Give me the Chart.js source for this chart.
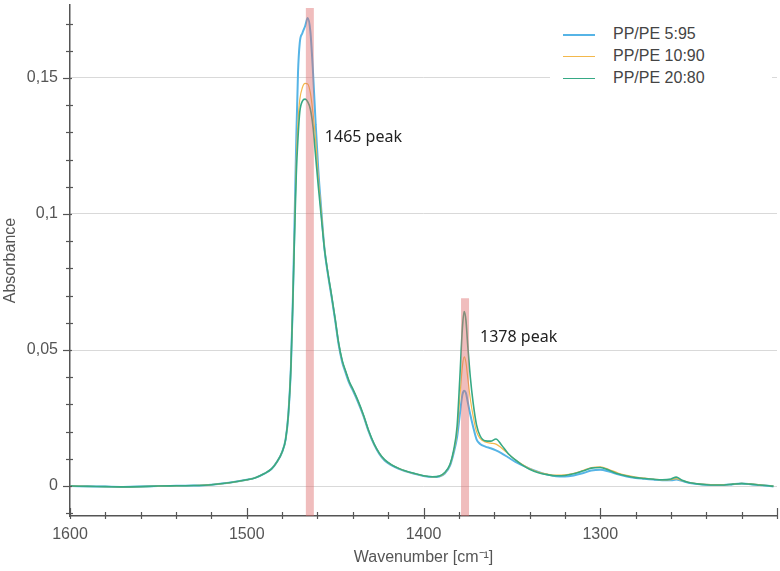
<!DOCTYPE html>
<html>
<head>
<meta charset="utf-8">
<script src="https://cdn.jsdelivr.net/npm/chart.js@4/dist/chart.umd.min.js"></script>
<style>
  html, body { margin: 0; padding: 0; background: #fff; }
  #wrap { position: relative; width: 780px; height: 571px; }
  #legend {
    position: absolute; left: 550px; top: 22px; width: 222px; height: 78px;
    background: #fff; font: 16px "Liberation Sans", Arial, sans-serif; color: #444;
  }
  #legend .row { position: absolute; left: 63px; height: 22px; line-height: 22px; white-space: nowrap; }
  #legend .sw { position: absolute; left: -50px; top: 11px; width: 32px; }
</style>
</head>
<body>
<div id="wrap">
  <canvas id="chart" width="780" height="571"></canvas>
  <div id="legend"></div>
</div>
<script>
/* FTIR overlay, PP/PE blends, 1600–1200 cm-1 */

// ── Data ──────────────────────────────────────────────────────────────────
const wavenumbers = [
  1600, 1590, 1580, 1570, 1560, 1550, 1540, 1530, 1520, 1510,
  1500, 1495, 1490, 1486, 1483, 1480, 1478, 1476.5, 1475, 1474,
  1473, 1472, 1471, 1470, 1468.5, 1467, 1465.5, 1464, 1462.5, 1461,
  1459.5, 1458, 1456, 1454, 1452, 1450, 1448, 1446, 1444, 1442,
  1440, 1437, 1434, 1431, 1428, 1425, 1422, 1418, 1414, 1410,
  1405, 1400, 1395, 1391, 1388, 1385, 1383, 1381, 1379.5, 1378,
  1377, 1376, 1375, 1373.5, 1372, 1370, 1368, 1365, 1362, 1359,
  1356, 1352, 1348, 1344, 1340, 1335, 1330, 1325, 1320, 1315,
  1310, 1305, 1300, 1295, 1290, 1285, 1280, 1275, 1270, 1265,
  1260, 1257, 1254, 1250, 1245, 1240, 1235, 1230, 1225, 1220,
  1215, 1210, 1205, 1202
];

const pp5 = [
  0.0000, -0.0001, -0.0002, -0.0003, -0.0002, 0.0000, 0.0001, 0.0002, 0.0005, 0.0012,
  0.0023, 0.0031, 0.0046, 0.0063, 0.0088, 0.0125, 0.0172, 0.026, 0.044, 0.066,
  0.096, 0.127, 0.152, 0.163, 0.1665, 0.169, 0.172, 0.167, 0.152, 0.133,
  0.116, 0.103, 0.087, 0.0775, 0.0695, 0.061, 0.052, 0.0455, 0.0415, 0.0378,
  0.0352, 0.0308, 0.0258, 0.0200, 0.0153, 0.0118, 0.0094, 0.0076, 0.0063, 0.0054,
  0.0045, 0.0037, 0.0033, 0.0035, 0.0046, 0.0075, 0.012, 0.018, 0.026, 0.0335,
  0.035, 0.0342, 0.031, 0.0262, 0.022, 0.0172, 0.0155, 0.0145, 0.0139, 0.0131,
  0.0121, 0.0105, 0.0089, 0.0076, 0.0064, 0.0052, 0.0042, 0.0036, 0.0035, 0.0039,
  0.0047, 0.0057, 0.0060, 0.0053, 0.0043, 0.0035, 0.0030, 0.0027, 0.0024, 0.0021,
  0.0021, 0.0024, 0.0019, 0.0012, 0.0008, 0.0005, 0.0004, 0.0004, 0.0007, 0.0009,
  0.0007, 0.0004, 0.0001, -0.0001
];

const pp10 = [
  0.0000, -0.0001, -0.0002, -0.0003, -0.0002, 0.0000, 0.0001, 0.0002, 0.0005, 0.0012,
  0.0023, 0.0031, 0.0046, 0.0063, 0.0088, 0.0125, 0.0172, 0.026, 0.044, 0.066,
  0.093, 0.119, 0.134, 0.142, 0.1465, 0.148, 0.1478, 0.1445, 0.137, 0.127,
  0.113, 0.102, 0.0875, 0.078, 0.070, 0.0615, 0.0525, 0.046, 0.042, 0.0382,
  0.0356, 0.0312, 0.026, 0.0202, 0.0155, 0.0121, 0.0096, 0.0078, 0.0065, 0.0055,
  0.0046, 0.0038, 0.0034, 0.0036, 0.0048, 0.0078, 0.0125, 0.020, 0.032, 0.044,
  0.0475, 0.0455, 0.040, 0.032, 0.026, 0.0200, 0.0175, 0.0162, 0.0158, 0.0154,
  0.0141, 0.0118, 0.0097, 0.0079, 0.0064, 0.0051, 0.0044, 0.0040, 0.0041, 0.0047,
  0.0057, 0.0068, 0.0071, 0.0061, 0.0048, 0.0039, 0.0033, 0.0029, 0.0026, 0.0023,
  0.0024, 0.0027, 0.0021, 0.0014, 0.0009, 0.0006, 0.0005, 0.0005, 0.0007, 0.0010,
  0.0008, 0.0005, 0.0002, 0.0000
];

const pp20 = [
  0.0000, -0.0001, -0.0002, -0.0003, -0.0002, 0.0000, 0.0001, 0.0002, 0.0005, 0.0012,
  0.0023, 0.0031, 0.0046, 0.0063, 0.0088, 0.0125, 0.0172, 0.026, 0.044, 0.066,
  0.091, 0.114, 0.128, 0.1375, 0.1415, 0.1422, 0.1412, 0.1385, 0.132, 0.121,
  0.110, 0.100, 0.087, 0.078, 0.070, 0.0615, 0.0525, 0.0462, 0.0422, 0.0384,
  0.0357, 0.0313, 0.0262, 0.0203, 0.0156, 0.0121, 0.0097, 0.0078, 0.0065, 0.0055,
  0.0046, 0.0038, 0.0034, 0.0037, 0.0050, 0.0080, 0.013, 0.022, 0.039, 0.058,
  0.0641, 0.061, 0.052, 0.040, 0.031, 0.0225, 0.0185, 0.0166, 0.0165, 0.0173,
  0.0152, 0.0119, 0.0096, 0.0077, 0.0062, 0.0049, 0.0042, 0.0038, 0.0039, 0.0045,
  0.0055, 0.0066, 0.0068, 0.0058, 0.0045, 0.0037, 0.0031, 0.0028, 0.0025, 0.0023,
  0.0026, 0.0033, 0.0022, 0.0013, 0.0008, 0.0005, 0.0004, 0.0004, 0.0007, 0.0009,
  0.0007, 0.0004, 0.0001, -0.0001
];

const seriesLabels = ['PP/PE 5:95', 'PP/PE 10:90', 'PP/PE 20:80'];

// highlighted bands (centre, top of band) and their captions
const bandCenters = [1464.3, 1376.5];
const bandTops    = [0.1757, 0.069];
const bandLabels  = ['1465 peak', '1378 peak'];

// ── Axis range ────────────────────────────────────────────────────────────
const X_MIN = 1200, X_MAX = 1600;
const Y_MIN = -0.011, Y_MAX = 0.1768;

// ── Styles ────────────────────────────────────────────────────────────────
const COLORS = ['#56b4e6', '#f3b84c', '#36a985'];
const WIDTHS = [2, 1.2, 1.6];
const AXIS_COLOR = '#555';
const FONT = '"Liberation Sans", Arial, sans-serif';

function isMultiple(v, step) {
  const r = v / step;
  return Math.abs(r - Math.round(r)) < 1e-6;
}

function fmtComma(v) {
  return String(Math.round(v * 1000) / 1000).replace('.', ',');
}

const spectra = [pp5, pp10, pp20].map((ys, i) => ({
  type: 'line',
  label: seriesLabels[i],
  data: wavenumbers.map((w, j) => ({ x: w, y: ys[j] })),
  borderColor: COLORS[i],
  borderWidth: WIDTHS[i],
  pointRadius: 0,
  cubicInterpolationMode: 'monotone',
  order: 3 - i
}));

const bands = bandCenters.map((c, i) => ({
  type: 'line',
  label: bandLabels[i],
  data: [{ x: c, y: bandTops[i] }, { x: c, y: Y_MIN }],
  borderColor: 'rgba(222,108,108,0.45)',
  borderWidth: 8,
  borderCapStyle: 'butt',
  pointRadius: 0,
  order: 0
}));

// ── Tick marks crossing the axes + band captions ──────────────────────────
const axisDecor = {
  id: 'axisDecor',
  afterDraw(chart) {
    const { ctx, scales: { x, y } } = chart;
    ctx.save();
    ctx.strokeStyle = AXIS_COLOR;
    ctx.lineWidth = 1.2;
    y.ticks.forEach(t => {
      const py = Math.round(y.getPixelForValue(t.value)) + 0.5;
      const major = isMultiple(t.value, 0.05);
      ctx.beginPath();
      ctx.moveTo(y.right - (major ? 7 : 4), py);
      ctx.lineTo(y.right + (major ? 2 : 3), py);
      ctx.stroke();
    });
    x.ticks.forEach(t => {
      const px = Math.round(x.getPixelForValue(t.value)) + 0.5;
      const major = isMultiple(t.value, 100);
      ctx.beginPath();
      ctx.moveTo(px, x.top - (major ? 8 : 4));
      ctx.lineTo(px, x.top + 3);
      ctx.stroke();
    });

    // captions next to the bands
    ctx.fillStyle = '#222';
    ctx.font = '16px "Noto Sans", ' + FONT;
    ctx.textBaseline = 'middle';
    ctx.fillText(bandLabels[0], x.getPixelForValue(bandCenters[0]) + 15, y.getPixelForValue(0.128));
    ctx.fillText(bandLabels[1], x.getPixelForValue(bandCenters[1]) + 15, y.getPixelForValue(0.0548));
    ctx.restore();
  }
};

// ── Chart ─────────────────────────────────────────────────────────────────
const chart = new Chart(document.getElementById('chart'), {
  type: 'line',
  data: { datasets: [...bands, ...spectra] },
  plugins: [axisDecor],
  options: {
    responsive: false,
    animation: false,
    devicePixelRatio: 1,
    layout: { padding: { top: 5, right: 3, left: 0, bottom: 0 } },
    plugins: { legend: { display: false }, tooltip: { enabled: false } },
    scales: {
      x: {
        type: 'linear',
        reverse: true,
        min: X_MIN,
        max: X_MAX,
        afterFit: s => { s.height = 55; s.paddingLeft = 0; s.paddingRight = 0; },
        ticks: {
          stepSize: 20,
          autoSkip: false,
          maxRotation: 0,
          padding: 9,
          color: AXIS_COLOR,
          font: { family: FONT, size: 16 },
          callback: v => (isMultiple(v, 100) && v !== X_MIN ? String(v) : '')
        },
        grid: { display: false, drawTicks: false },
        border: { display: true, color: AXIS_COLOR, width: 1.5 },
        title: {
          display: true,
          text: 'Wavenumber [cm⁻¹]',
          color: AXIS_COLOR,
          font: { family: FONT, size: 16 },
          padding: { top: 0, bottom: 4 }
        }
      },
      y: {
        min: Y_MIN,
        max: Y_MAX,
        afterFit: s => { s.width = 70; s.paddingTop = 0; s.paddingBottom = 0; },
        ticks: {
          stepSize: 0.01,
          includeBounds: false,
          autoSkip: false,
          padding: 12,
          color: AXIS_COLOR,
          font: { family: FONT, size: 16 },
          callback: v => (isMultiple(v, 0.05) ? fmtComma(v) : '')
        },
        grid: {
          drawTicks: false,
          color: c => (c.tick && isMultiple(c.tick.value, 0.05) ? '#d9d9d9' : 'transparent'),
          lineWidth: 1
        },
        border: { display: true, color: AXIS_COLOR, width: 1.5 },
        title: {
          display: true,
          text: 'Absorbance',
          color: AXIS_COLOR,
          font: { family: FONT, size: 16 },
          padding: { top: 1, bottom: 0 }
        }
      }
    }
  }
});

// ── Legend (HTML, top-right over the plot) ────────────────────────────────
const legend = document.getElementById('legend');
seriesLabels.forEach((label, i) => {
  const row = document.createElement('div');
  row.className = 'row';
  row.style.top = (1 + i * 22) + 'px';
  const sw = document.createElement('span');
  sw.className = 'sw';
  sw.style.borderTop = WIDTHS[i] + 'px solid ' + COLORS[i];
  row.appendChild(sw);
  row.appendChild(document.createTextNode(label));
  legend.appendChild(row);
});
</script>
</body>
</html>
